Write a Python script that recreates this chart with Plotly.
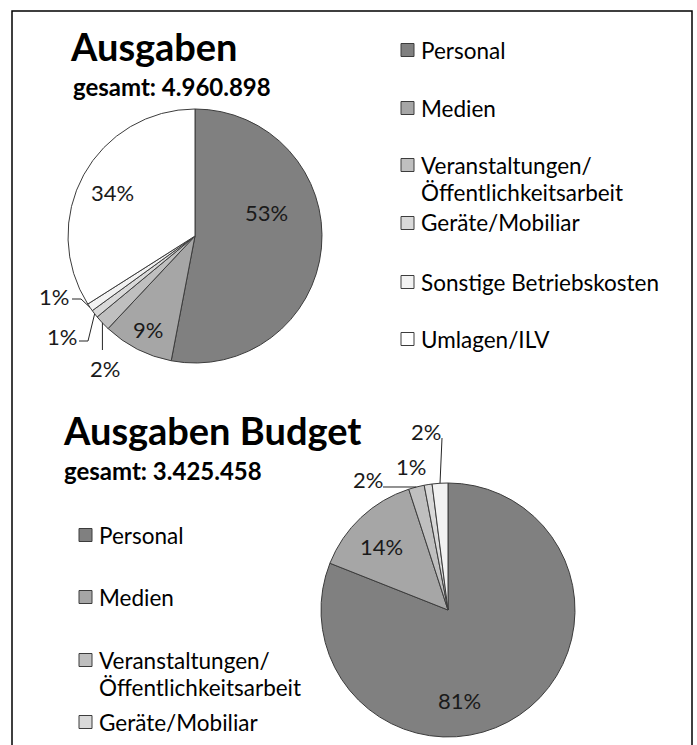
import math
import plotly.graph_objects as go

# ---------------- data ----------------
categories = ["Personal", "Medien", "Veranstaltungen/Öffentlichkeitsarbeit",
              "Geräte/Mobiliar", "Sonstige Betriebskosten", "Umlagen/ILV"]
colors = ["#808080", "#a6a6a6", "#bfbfbf", "#d9d9d9", "#f2f2f2", "#ffffff"]

ausgaben_pct = [53, 9, 2, 1, 1, 34]          # Ausgaben, gesamt 4.960.898
budget_pct = [81, 14, 2, 1, 2]               # Ausgaben Budget, gesamt 3.425.458
budget_categories = categories[:5]

title_top = "Ausgaben"
sub_top = "gesamt: 4.960.898"
title_bot = "Ausgaben Budget"
sub_bot = "gesamt: 3.425.458"

# ---------------- layout helpers ----------------
W, H = 697, 745
FONT = "Lato, 'Open Sans', sans-serif"


def X(px):
    return px / W


def Y(py):
    return 1 - py / H


R = 127
top_c = (195, 236)
bot_c = (448, 610)


def domain(c):
    return dict(x=[X(c[0] - R), X(c[0] + R)], y=[Y(c[1] + R), Y(c[1] - R)])


def edge_point(values, idx, c):
    tot = sum(values)
    start = sum(values[:idx]) / tot
    mid = (start + values[idx] / tot / 2) * 2 * math.pi
    return c[0] + R * math.sin(mid), c[1] - R * math.cos(mid)


fig = go.Figure()
for vals, cats, c in [(ausgaben_pct, categories, top_c), (budget_pct, budget_categories, bot_c)]:
    fig.add_trace(go.Pie(
        values=vals, labels=cats, domain=domain(c), sort=False,
        direction="clockwise", rotation=0, textinfo="none", showlegend=False,
        marker=dict(colors=colors[:len(vals)], line=dict(color="#3c3c3c", width=1)),
        hoverinfo="label+percent",
    ))

ann = []
shapes = []

# border box
shapes.append(dict(type="rect", xref="paper", yref="paper", x0=X(12), x1=X(692),
                   y0=Y(800), y1=Y(11), line=dict(color="#000000", width=1.5)))

# titles
for txt, x, y, s in [(title_top, 68, 46, 38), (sub_top, 71, 86, 24),
                     (title_bot, 61, 430, 38), (sub_bot, 62, 471, 24)]:
    ann.append(dict(text=f"<b>{txt}</b>", x=X(x), y=Y(y), xref="paper", yref="paper",
                    xanchor="left", yanchor="middle", showarrow=False,
                    font=dict(size=s, color="#000000", family=FONT)))


# legends
def legend(cats, rows, sq_x, txt_x):
    for i, (cat, ry) in enumerate(zip(cats, rows)):
        if ry > H:
            continue
        shapes.append(dict(type="rect", xref="paper", yref="paper",
                           x0=X(sq_x), x1=X(sq_x + 13), y0=Y(ry + 6.5), y1=Y(ry - 6.5),
                           fillcolor=colors[i], line=dict(color="#3c3c3c", width=1)))
        lines = cat.replace("/Ö", "/\nÖ").split("\n")
        for k, ln in enumerate(lines):
            ann.append(dict(text=ln, x=X(txt_x), y=Y(ry + 27 * k), xref="paper", yref="paper",
                            xanchor="left", yanchor="middle", showarrow=False,
                            font=dict(size=22.5, color="#000000", family=FONT)))


legend(categories, [50, 108, 165, 223, 282, 339], 401, 419)
legend(categories, [535, 597, 660, 722, 784, 846], 79, 97)

# slice labels
LBL = dict(size=22, color="#1a1a1a", family=FONT)
top_lbl_pos = [(266, 212), (148, 329), (105, 368), (62, 336), (54, 297), (113, 192)]
bot_lbl_pos = [(460, 700), (381, 546), (368, 480), (411, 466), (426, 431)]
for vals, pos in [(ausgaben_pct, top_lbl_pos), (budget_pct, bot_lbl_pos)]:
    for v, (x, y) in zip(vals, pos):
        ann.append(dict(text=f"{v}%", x=X(x), y=Y(y), xref="paper", yref="paper",
                        xanchor="center", yanchor="middle", showarrow=False, font=LBL))

# leader lines (start at slice edge computed from the data)
leaders = [
    (ausgaben_pct, 2, top_c, [("v", 350)]),
    (ausgaben_pct, 3, top_c, [(88, 341), (79, 341)]),
    (ausgaben_pct, 4, top_c, [(81, 299), (72, 299)]),
    (budget_pct, 2, bot_c, [(383, 487)]),
    (budget_pct, 4, bot_c, [(442, 438)]),
]
for vals, idx, c, pts in leaders:
    ex, ey = edge_point(vals, idx, c)
    path = f"M {X(ex)},{Y(ey)}"
    for px, py in pts:
        if px == "v":
            px = ex
        path += f" L {X(px)},{Y(py)}"
    shapes.append(dict(type="path", xref="paper", yref="paper", path=path,
                       line=dict(color="#262626", width=1)))

fig.update_layout(
    width=W, height=H, margin=dict(l=0, r=0, t=0, b=0),
    paper_bgcolor="#ffffff", plot_bgcolor="#ffffff",
    font=dict(family=FONT), annotations=ann, shapes=shapes, showlegend=False,
)

fig.write_html("out.html", config={"displayModeBar": False},
               post_script="document.body.style.margin='0';document.body.style.overflow='hidden';")
